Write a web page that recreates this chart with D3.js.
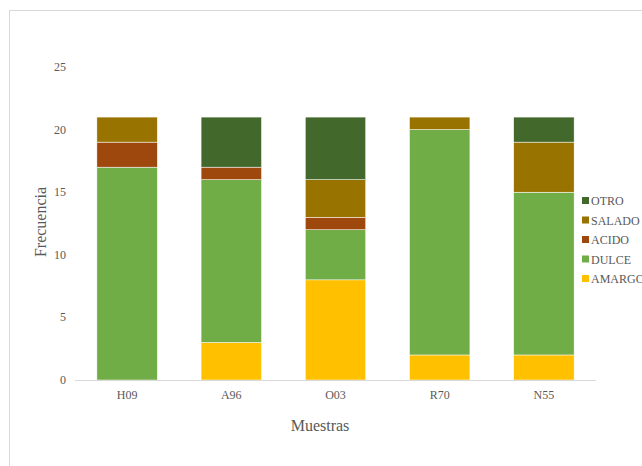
<!DOCTYPE html>
<html><head><meta charset="utf-8">
<script src="https://cdn.jsdelivr.net/npm/d3@7"></script>
<style>body{margin:0;background:#fff}svg{display:block}</style>
</head><body><svg id="c" width="642" height="466"></svg>
<script>
const categories = ["H09","A96","O03","R70","N55"];
const seriesNames = ["AMARGO","DULCE","ACIDO","SALADO","OTRO"];
const amargo = [0,3,8,2,2];
const dulce  = [17,13,4,18,13];
const acido  = [2,1,1,0,0];
const salado = [2,0,3,1,4];
const otro   = [0,4,5,0,2];
const yTicks = [0,5,10,15,20,25];
const colors = ["#FFC000","#70AD47","#9E480E","#997300","#43682B"];

const svg = d3.select("#c");
const font = "'Liberation Serif','Times New Roman',serif";
svg.append("rect").attr("x",9.5).attr("y",10.5).attr("width",640).attr("height",460)
  .attr("fill","#fff").attr("stroke","#d9d9d9");

const x = d3.scaleBand().domain(categories).range([75,596]).paddingInner(0.42).paddingOuter(0.21);
const y = d3.scaleLinear().domain([0,25]).range([380,67]);

const rows = categories.map((c,i)=>({cat:c,AMARGO:amargo[i],DULCE:dulce[i],ACIDO:acido[i],SALADO:salado[i],OTRO:otro[i]}));
const stack = d3.stack().keys(seriesNames)(rows);

// y tick labels
svg.append("g").selectAll("text").data(yTicks).join("text")
  .attr("x",66).attr("y",d=>y(d)+4).attr("text-anchor","end")
  .attr("font-family",font).attr("font-size",12).attr("fill","#595959").text(d=>d);

stack.forEach((s,k)=>{
  svg.append("g").selectAll("rect").data(s).join("rect")
    .attr("x",d=>x(d.data.cat)).attr("width",x.bandwidth())
    .attr("y",d=>y(d[1])).attr("height",d=>y(d[0])-y(d[1]))
    .attr("fill",colors[k]).attr("stroke","#fff").attr("stroke-width",0.5);
});

// x axis line
svg.append("line").attr("x1",75).attr("x2",596).attr("y1",380.5).attr("y2",380.5)
  .attr("stroke","#d9d9d9").attr("stroke-width",1);
svg.append("g").selectAll("text").data(categories).join("text")
  .attr("x",d=>x(d)+x.bandwidth()/2).attr("y",399).attr("text-anchor","middle")
  .attr("font-family",font).attr("font-size",12).attr("fill","#595959").text(d=>d);

svg.append("text").attr("x",320).attr("y",431).attr("text-anchor","middle")
  .attr("font-family",font).attr("font-size",16).attr("fill","#595959").text("Muestras");
svg.append("text").attr("transform","translate(46,222) rotate(-90)").attr("text-anchor","middle")
  .attr("font-family",font).attr("font-size",16).attr("fill","#595959").text("Frecuencia");

// legend (reverse order)
const leg = svg.append("g");
seriesNames.slice().reverse().forEach((n,i)=>{
  const k = seriesNames.length-1-i;
  const yy = 201 + i*19.5;
  leg.append("rect").attr("x",582).attr("y",yy-4).attr("width",7).attr("height",7).attr("fill",colors[k]);
  leg.append("text").attr("x",591).attr("y",yy+4).attr("font-family",font).attr("font-size",12)
    .attr("fill","#595959").text(n);
});
</script></body></html>
